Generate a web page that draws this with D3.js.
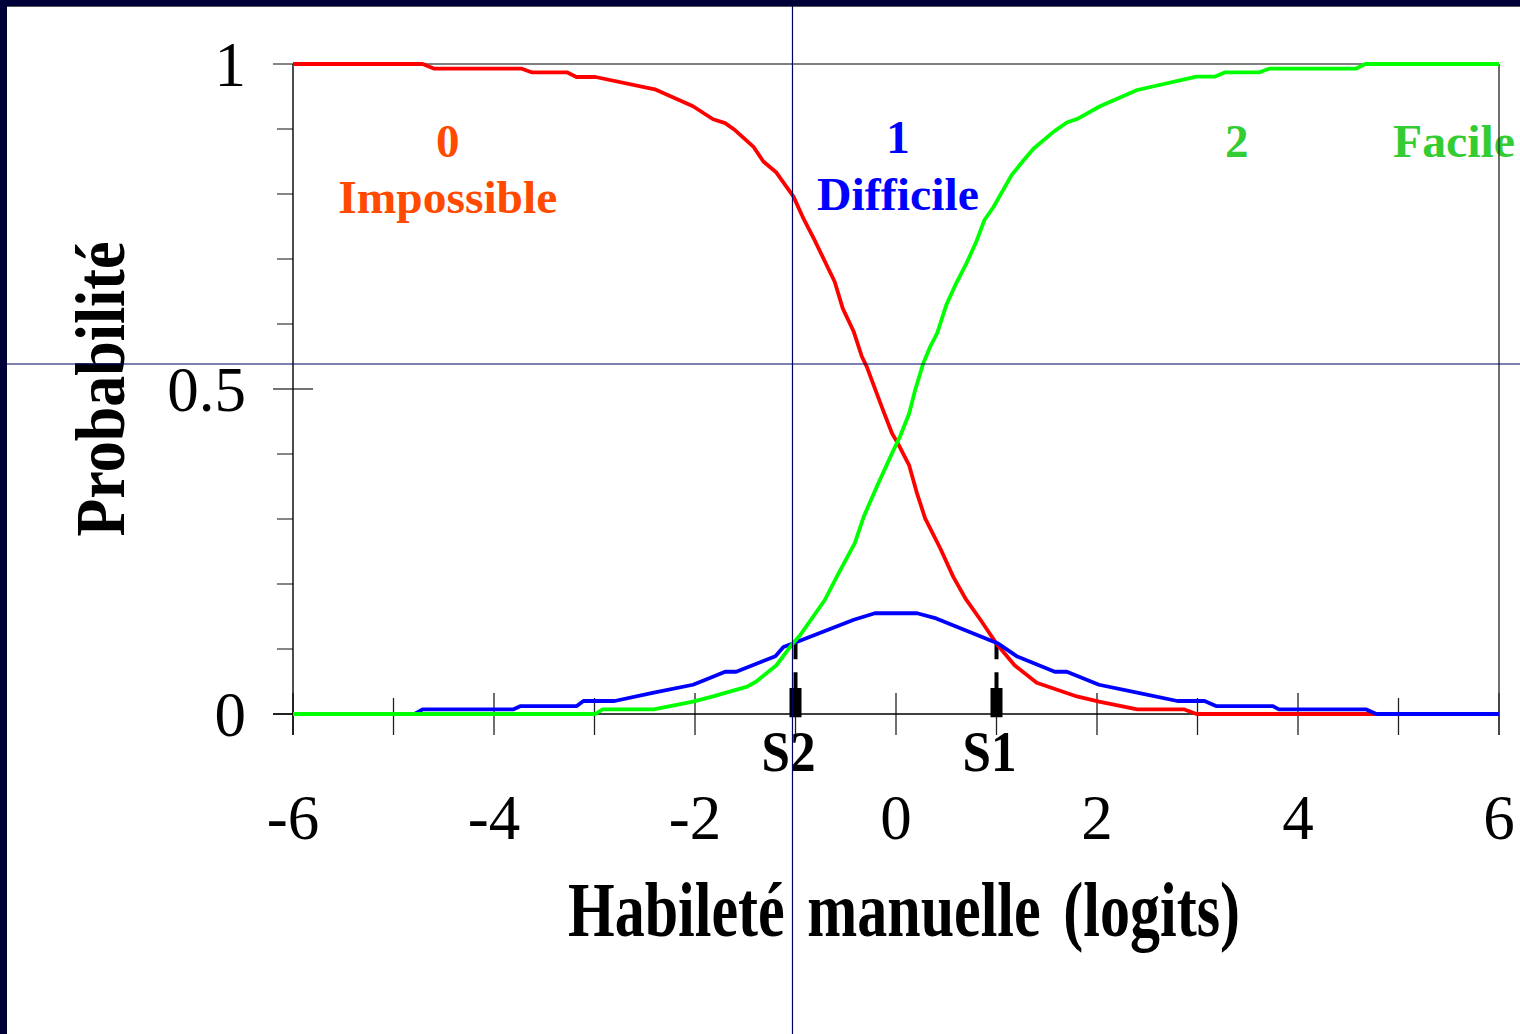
<!DOCTYPE html>
<html>
<head>
<meta charset="utf-8">
<script src="https://cdn.jsdelivr.net/npm/d3@7"></script>
<style>
  html, body { margin: 0; padding: 0; background: #fff; }
  svg { display: block; }
  text { font-family: "Liberation Serif", "Times New Roman", serif; }
</style>
</head>
<body>
<script>
// ---------- DATA ----------
// Category probability curves: [ability (logits), probability]
const curveImpossible = [
  [-6,1],[-4.71,1],[-4.6,0.993],[-3.73,0.993],[-3.62,0.987],[-3.27,0.987],[-3.18,0.98],[-2.99,0.98],
  [-2.4,0.961],[-2.02,0.935],[-1.82,0.915],[-1.70,0.909],[-1.60,0.898],[-1.42,0.873],[-1.32,0.850],
  [-1.19,0.833],[-1.02,0.796],[-0.92,0.762],[-0.81,0.729],[-0.61,0.665],[-0.53,0.624],[-0.42,0.588],
  [-0.34,0.550],[-0.29,0.534],[-0.23,0.509],[-0.13,0.468],[-0.04,0.432],[0.02,0.416],[0.13,0.383],
  [0.21,0.339],[0.29,0.301],[0.44,0.255],[0.57,0.211],[0.69,0.178],[0.84,0.145],[1.01,0.106],
  [1.18,0.075],[1.40,0.048],[1.80,0.027],[2.02,0.019],[2.40,0.007],[2.87,0.007],[2.99,0],[6,0]
];
const curveDifficile = [
  [-6,0],[-4.79,0],[-4.71,0.007],[-3.81,0.007],[-3.74,0.012],[-3.18,0.012],[-3.11,0.020],[-2.80,0.020],
  [-2.41,0.033],[-2.02,0.045],[-1.92,0.051],[-1.70,0.065],[-1.59,0.065],[-1.20,0.089],[-1.12,0.103],
  [-1.02,0.109],[-0.42,0.145],[-0.21,0.155],[0.21,0.155],[0.40,0.147],[1.01,0.109],[1.20,0.089],
  [1.58,0.065],[1.70,0.065],[2.02,0.045],[2.40,0.033],[2.80,0.020],[3.07,0.020],[3.19,0.012],
  [3.75,0.012],[3.81,0.007],[4.68,0.007],[4.78,0],[6,0]
];
const curveFacile = [
  [-6,0],[-2.99,0],[-2.92,0.007],[-2.41,0.007],[-2.02,0.019],[-1.82,0.027],[-1.48,0.042],[-1.39,0.050],
  [-1.19,0.075],[-1.04,0.106],[-0.95,0.122],[-0.71,0.175],[-0.59,0.211],[-0.41,0.263],[-0.32,0.304],
  [-0.19,0.350],[-0.04,0.401],[0.04,0.427],[0.13,0.462],[0.19,0.498],[0.27,0.539],[0.34,0.565],
  [0.41,0.586],[0.50,0.629],[0.60,0.663],[0.70,0.693],[0.80,0.727],[0.88,0.760],[0.97,0.780],
  [1.15,0.829],[1.27,0.852],[1.37,0.870],[1.57,0.896],[1.70,0.910],[1.81,0.916],[2.03,0.935],
  [2.40,0.960],[2.99,0.9805],[3.17,0.9805],[3.27,0.987],[3.61,0.987],[3.72,0.993],[4.58,0.993],
  [4.67,1],[6,1]
];
const seriesColors = ["#ff0000", "#0000ff", "#00ff00"];

// x ticks (every logit), labelled every 2
const xTickValues = [-6,-5,-4,-3,-2,-1,0,1,2,3,4,5,6];
const xTickLabels = ["-6","-4","-2","0","2","4","6"];
const xLabelValues = [-6,-4,-2,0,2,4,6];
// y ticks
const yTickValues = [0,0.1,0.2,0.3,0.4,0.5,0.6,0.7,0.8,0.9,1];
const yLabelValues = [0, 0.5, 1];
const yTickLabels = ["0", "0.5", "1"];

// Thresholds (category crossings)
const thresholdNames = ["S2", "S1"];
const thresholdX = [-1.0, 1.0];
const thresholdP = [0.109, 0.109];

// Category labels
const catNumbers = ["0", "1", "2"];
const catNames = ["Impossible", "Difficile", "Facile"];
const catNumberX = [-4.46, 0.02, 3.39];
const catNameX = [-4.46, 0.02, 4.945];
const catColors = ["#ff4a00", "#0000ff", "#33cc33"];

// Guide lines (slide guides)
const guideX = -1.03;
const guideY = 0.5385;

// ---------- CHART ----------
const W = 1520, H = 1034;
const svg = d3.select("body").append("svg").attr("width", W).attr("height", H);

const x = d3.scaleLinear().domain([-6, 6]).range([293, 1499]);
const y = d3.scaleLinear().domain([0, 1]).range([714, 64]);

// navy slide border
svg.append("rect").attr("x", 0).attr("y", 0).attr("width", W).attr("height", 6).attr("fill", "#000038");
svg.append("rect").attr("x", 0).attr("y", 0).attr("width", 7).attr("height", H).attr("fill", "#000038");
svg.append("line").attr("x1", 7).attr("x2", W).attr("y1", 6.5).attr("y2", 6.5).attr("stroke", "#555").attr("stroke-width", 1);

// frame: top
svg.append("line").attr("x1", x(-6)).attr("x2", x(6)).attr("y1", y(1)).attr("y2", y(1))
  .attr("stroke", "#555").attr("stroke-width", 1.5);

// y ticks
svg.selectAll(".ytick").data(yTickValues).join("line")
  .attr("x1", d => yLabelValues.includes(d) ? x(-6) - 20 : x(-6) - 16)
  .attr("x2", d => d === 0.5 ? x(-6) + 20 : x(-6))
  .attr("y1", d => y(d)).attr("y2", d => y(d))
  .attr("stroke", "#444").attr("stroke-width", 1.3);

// x ticks
svg.selectAll(".xtick").data(xTickValues).join("line")
  .attr("x1", d => x(d)).attr("x2", d => x(d))
  .attr("y1", d => (d % 2 === 0) ? y(0) - 21 : y(0) - 16)
  .attr("y2", y(0) + 21)
  .attr("stroke", "#222").attr("stroke-width", 1.3);

// axes lines
svg.append("line").attr("x1", x(-6)).attr("x2", x(-6)).attr("y1", y(1)).attr("y2", y(0) + 21)
  .attr("stroke", "#000").attr("stroke-width", 1.4);
svg.append("line").attr("x1", x(-6) - 20).attr("x2", x(6)).attr("y1", y(0)).attr("y2", y(0))
  .attr("stroke", "#000").attr("stroke-width", 1.4);

// category labels (drawn before the right frame line)
const lbl = svg.append("g").attr("font-weight", "bold").attr("font-size", 47);
lbl.selectAll(".num").data(catNumbers).join("text")
  .attr("x", (d, i) => x(catNumberX[i]))
  .attr("y", (d, i) => i === 1 ? y(0.863) : y(0.857))
  .attr("text-anchor", "middle").attr("fill", (d, i) => catColors[i]).text(d => d);
lbl.selectAll(".name").data(catNames).join("text")
  .attr("x", (d, i) => x(catNameX[i]))
  .attr("y", (d, i) => i === 0 ? y(0.771) : (i === 1 ? y(0.775) : y(0.857)))
  .attr("text-anchor", (d, i) => i === 2 ? "start" : "middle")
  .attr("textLength", (d, i) => [219, 162, 122][i]).attr("lengthAdjust", "spacingAndGlyphs")
  .attr("fill", (d, i) => catColors[i]).text(d => d);

svg.append("line").attr("x1", x(6)).attr("x2", x(6)).attr("y1", y(1)).attr("y2", y(0) + 21)
  .attr("stroke", "#333").attr("stroke-width", 1.4);

// threshold markers
const thr = svg.append("g");
thresholdX.forEach((tx, i) => {
  thr.append("line")
    .attr("x1", x(tx)).attr("x2", x(tx))
    .attr("y1", y(thresholdP[i])).attr("y2", y(0.04))
    .attr("stroke", "#000").attr("stroke-width", 4)
    .attr("stroke-dasharray", "16,13");
  thr.append("rect")
    .attr("x", x(tx) - 6).attr("width", 12)
    .attr("y", y(0.04)).attr("height", y(-0.005) - y(0.04))
    .attr("fill", "#000");
  thr.append("text")
    .attr("x", x(tx) - 7).attr("y", y(0) + 57)
    .attr("text-anchor", "middle").attr("font-weight", "bold")
    .attr("font-size", 58).attr("textLength", 54).attr("lengthAdjust", "spacingAndGlyphs")
    .attr("fill", "#000").text(thresholdNames[i]);
});

// curves
const line = d3.line().x(d => x(d[0])).y(d => y(d[1]));
[curveImpossible, curveDifficile, curveFacile].forEach((c, i) => {
  svg.append("path").datum(c).attr("d", line)
    .attr("fill", "none").attr("stroke", seriesColors[i])
    .attr("stroke-width", 3.8).attr("stroke-linejoin", "round");
});

// tick labels
svg.selectAll(".ylab").data(yLabelValues).join("text")
  .attr("x", 246).attr("y", d => y(d) + 22)
  .attr("text-anchor", "end").attr("font-size", 63).attr("fill", "#000")
  .text((d, i) => yTickLabels[i]);
svg.selectAll(".xlab").data(xLabelValues).join("text")
  .attr("x", d => x(d)).attr("y", y(0) + 125)
  .attr("text-anchor", "middle").attr("font-size", 63).attr("fill", "#000")
  .text((d, i) => xTickLabels[i]);

// axis titles
svg.append("text")
  .attr("x", 904).attr("y", 936)
  .attr("text-anchor", "middle").attr("font-weight", "bold")
  .attr("font-size", 78).attr("textLength", 672).attr("lengthAdjust", "spacingAndGlyphs")
  .attr("word-spacing", 10)
  .attr("fill", "#000").text("Habileté manuelle (logits)");
svg.append("text")
  .attr("transform", `translate(124, ${y(0.5)}) rotate(-90)`)
  .attr("text-anchor", "middle").attr("font-weight", "bold")
  .attr("font-size", 70).attr("textLength", 295).attr("lengthAdjust", "spacingAndGlyphs")
  .attr("fill", "#000").text("Probabilité");

// slide guide lines (on top)
svg.append("line").attr("x1", x(guideX)).attr("x2", x(guideX)).attr("y1", 6).attr("y2", H)
  .attr("stroke", "#000066").attr("stroke-width", 1.2);
svg.append("line").attr("x1", 7).attr("x2", W).attr("y1", y(guideY)).attr("y2", y(guideY))
  .attr("stroke", "#000066").attr("stroke-width", 1.2);
</script>
</body>
</html>
